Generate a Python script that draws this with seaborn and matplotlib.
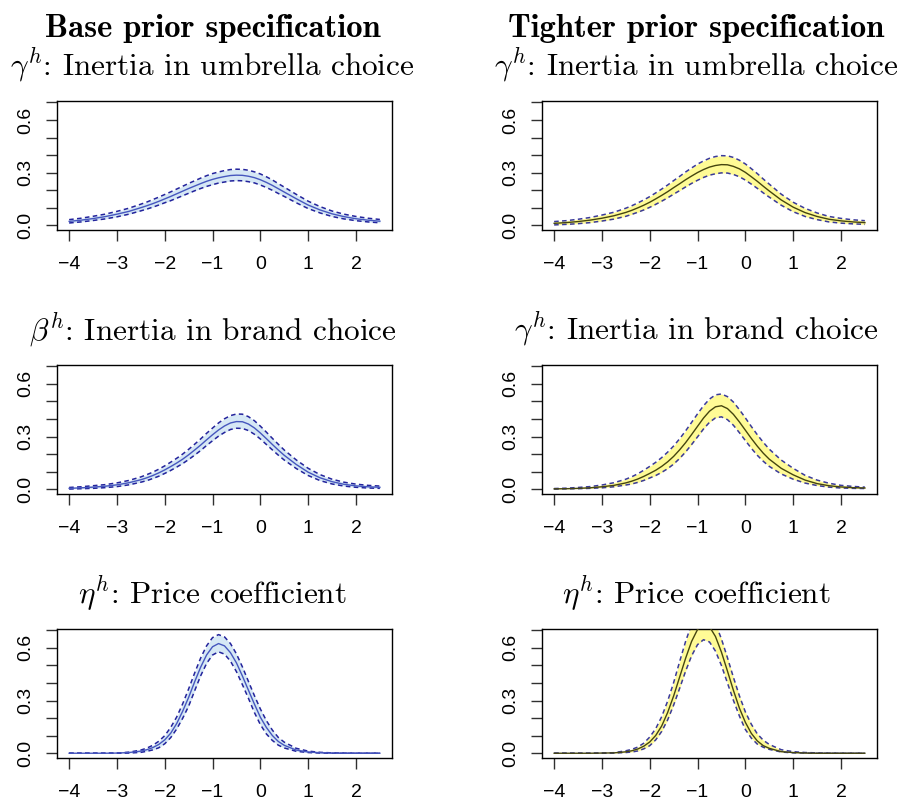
import matplotlib
matplotlib.use("Agg")
import matplotlib.pyplot as plt
import seaborn as sns

# ---------------------------------------------------------------------------
# Posterior density of the heterogeneity distribution: mean and 95% band
# (evaluated on a grid that is finer where the densities peak)
# ---------------------------------------------------------------------------
x_grid = [-4, -3.75, -3.5, -3.25, -3, -2.75, -2.5,
          -2.375, -2.25, -2.125, -2, -1.875, -1.75, -1.625, -1.5,
          -1.375, -1.25, -1.125, -1, -0.875, -0.75, -0.625, -0.5,
          -0.375, -0.25, -0.125, 0, 0.125, 0.25, 0.375, 0.5,
          0.75, 1, 1.25, 1.5, 1.75, 2, 2.25, 2.5]

# gamma^h (umbrella inertia), base prior
base_umb_mean = [0.023, 0.030, 0.039, 0.050, 0.064, 0.080, 0.101,
                 0.112, 0.124, 0.137, 0.151, 0.165, 0.180, 0.195, 0.210,
                 0.224, 0.238, 0.251, 0.262, 0.271, 0.278, 0.284, 0.286,
                 0.285, 0.280, 0.272, 0.260, 0.245, 0.228, 0.209, 0.190,
                 0.152, 0.116, 0.088, 0.066, 0.050, 0.038, 0.030, 0.024]
base_umb_hi = [0.033, 0.041, 0.052, 0.064, 0.080, 0.098, 0.121,
               0.133, 0.147, 0.161, 0.176, 0.191, 0.207, 0.223, 0.239,
               0.254, 0.269, 0.283, 0.295, 0.304, 0.312, 0.318, 0.320,
               0.319, 0.314, 0.305, 0.293, 0.277, 0.259, 0.238, 0.218,
               0.177, 0.138, 0.107, 0.082, 0.064, 0.051, 0.041, 0.034]
base_umb_lo = [0.014, 0.020, 0.028, 0.037, 0.049, 0.064, 0.083,
               0.093, 0.104, 0.116, 0.129, 0.141, 0.155, 0.169, 0.183,
               0.197, 0.210, 0.222, 0.232, 0.241, 0.247, 0.253, 0.255,
               0.254, 0.249, 0.242, 0.230, 0.216, 0.200, 0.182, 0.165,
               0.129, 0.096, 0.071, 0.051, 0.037, 0.027, 0.020, 0.015]

# gamma^h (umbrella inertia), tighter prior
tight_umb_mean = [0.012, 0.016, 0.022, 0.030, 0.041, 0.055, 0.074,
                  0.086, 0.100, 0.115, 0.132, 0.151, 0.171, 0.192, 0.215,
                  0.237, 0.260, 0.281, 0.301, 0.318, 0.332, 0.341, 0.346,
                  0.345, 0.336, 0.322, 0.302, 0.277, 0.251, 0.223, 0.196,
                  0.145, 0.104, 0.073, 0.051, 0.035, 0.026, 0.020, 0.016]
tight_umb_hi = [0.022, 0.027, 0.035, 0.045, 0.059, 0.075, 0.098,
                0.112, 0.128, 0.145, 0.164, 0.185, 0.207, 0.230, 0.255,
                0.279, 0.304, 0.327, 0.349, 0.367, 0.382, 0.392, 0.397,
                0.396, 0.387, 0.371, 0.350, 0.323, 0.295, 0.264, 0.235,
                0.178, 0.132, 0.097, 0.071, 0.051, 0.040, 0.032, 0.027]
tight_umb_lo = [0.003, 0.006, 0.010, 0.016, 0.025, 0.036, 0.052,
                0.063, 0.075, 0.088, 0.103, 0.120, 0.138, 0.157, 0.178,
                0.198, 0.219, 0.239, 0.257, 0.273, 0.286, 0.294, 0.299,
                0.298, 0.290, 0.277, 0.258, 0.235, 0.211, 0.185, 0.161,
                0.115, 0.078, 0.051, 0.033, 0.020, 0.013, 0.009, 0.006]

# beta^h (brand inertia), base prior
base_brand_mean = [0.005, 0.008, 0.012, 0.017, 0.025, 0.037, 0.054,
                   0.065, 0.078, 0.093, 0.110, 0.129, 0.149, 0.171, 0.196,
                   0.223, 0.251, 0.281, 0.310, 0.337, 0.360, 0.377, 0.385,
                   0.384, 0.371, 0.349, 0.320, 0.288, 0.255, 0.223, 0.193,
                   0.141, 0.097, 0.065, 0.043, 0.028, 0.019, 0.014, 0.011]
base_brand_hi = [0.010, 0.014, 0.020, 0.026, 0.036, 0.050, 0.070,
                 0.083, 0.097, 0.114, 0.133, 0.154, 0.176, 0.200, 0.227,
                 0.256, 0.286, 0.318, 0.348, 0.377, 0.401, 0.419, 0.428,
                 0.427, 0.413, 0.390, 0.359, 0.325, 0.290, 0.256, 0.223,
                 0.167, 0.119, 0.083, 0.057, 0.040, 0.029, 0.022, 0.018]
base_brand_lo = [0.001, 0.003, 0.005, 0.009, 0.015, 0.025, 0.040,
                 0.049, 0.061, 0.074, 0.090, 0.107, 0.126, 0.146, 0.169,
                 0.194, 0.220, 0.249, 0.276, 0.302, 0.323, 0.340, 0.347,
                 0.346, 0.334, 0.313, 0.286, 0.255, 0.224, 0.194, 0.166,
                 0.118, 0.078, 0.049, 0.030, 0.018, 0.011, 0.007, 0.005]

# brand inertia, tighter prior
tight_brand_mean = [0.002, 0.003, 0.005, 0.008, 0.014, 0.022, 0.036,
                    0.046, 0.058, 0.073, 0.090, 0.108, 0.130, 0.156, 0.187,
                    0.224, 0.265, 0.311, 0.358, 0.405, 0.444, 0.469, 0.475,
                    0.459, 0.426, 0.383, 0.336, 0.289, 0.245, 0.205, 0.171,
                    0.119, 0.082, 0.052, 0.032, 0.020, 0.013, 0.009, 0.007]
tight_brand_hi = [0.004, 0.006, 0.010, 0.015, 0.024, 0.037, 0.057,
                  0.071, 0.088, 0.108, 0.130, 0.153, 0.180, 0.211, 0.246,
                  0.287, 0.332, 0.380, 0.429, 0.475, 0.513, 0.537, 0.542,
                  0.527, 0.496, 0.453, 0.406, 0.357, 0.310, 0.267, 0.228,
                  0.166, 0.119, 0.079, 0.052, 0.034, 0.022, 0.016, 0.012]
tight_brand_lo = [0.001, 0.002, 0.003, 0.005, 0.008, 0.014, 0.024,
                  0.030, 0.039, 0.050, 0.064, 0.078, 0.096, 0.117, 0.143,
                  0.175, 0.212, 0.254, 0.298, 0.343, 0.381, 0.406, 0.412,
                  0.396, 0.364, 0.322, 0.277, 0.233, 0.193, 0.159, 0.130,
                  0.087, 0.057, 0.035, 0.021, 0.012, 0.007, 0.005, 0.004]

# eta^h (price coefficient), base prior
base_price_mean = [0.000, 0.000, 0.000, 0.000, 0.001, 0.004, 0.012,
                   0.020, 0.032, 0.050, 0.076, 0.114, 0.169, 0.239, 0.318,
                   0.406, 0.489, 0.559, 0.606, 0.624, 0.611, 0.572, 0.514,
                   0.439, 0.359, 0.280, 0.205, 0.147, 0.101, 0.067, 0.045,
                   0.018, 0.007, 0.003, 0.001, 0.000, 0.000, 0.000, 0.000]
base_price_hi = [0.000, 0.000, 0.000, 0.000, 0.001, 0.006, 0.018,
                 0.029, 0.045, 0.068, 0.100, 0.147, 0.206, 0.281, 0.366,
                 0.456, 0.541, 0.611, 0.658, 0.675, 0.662, 0.624, 0.565,
                 0.491, 0.409, 0.328, 0.252, 0.186, 0.132, 0.090, 0.063,
                 0.028, 0.012, 0.005, 0.002, 0.001, 0.000, 0.000, 0.000]
base_price_lo = [0.000, 0.000, 0.000, 0.000, 0.000, 0.001, 0.005,
                 0.011, 0.019, 0.031, 0.054, 0.089, 0.138, 0.199, 0.268,
                 0.355, 0.440, 0.511, 0.559, 0.577, 0.564, 0.524, 0.464,
                 0.390, 0.313, 0.232, 0.163, 0.110, 0.073, 0.046, 0.030,
                 0.011, 0.004, 0.001, 0.000, 0.000, 0.000, 0.000, 0.000]

# eta^h (price coefficient), tighter prior
tight_price_mean = [0.000, 0.000, 0.000, 0.000, 0.001, 0.002, 0.008,
                    0.014, 0.024, 0.040, 0.064, 0.101, 0.155, 0.232, 0.326,
                    0.433, 0.540, 0.636, 0.704, 0.734, 0.720, 0.664, 0.575,
                    0.468, 0.358, 0.257, 0.176, 0.113, 0.070, 0.043, 0.028,
                    0.009, 0.004, 0.001, 0.000, 0.000, 0.000, 0.000, 0.000]
tight_price_hi = [0.000, 0.000, 0.000, 0.000, 0.001, 0.003, 0.014,
                  0.022, 0.035, 0.057, 0.092, 0.140, 0.208, 0.297, 0.402,
                  0.521, 0.636, 0.734, 0.798, 0.820, 0.798, 0.738, 0.650,
                  0.544, 0.432, 0.327, 0.235, 0.165, 0.110, 0.074, 0.050,
                  0.020, 0.009, 0.004, 0.002, 0.001, 0.000, 0.000, 0.000]
tight_price_lo = [0.000, 0.000, 0.000, 0.000, 0.000, 0.001, 0.004,
                  0.007, 0.013, 0.025, 0.043, 0.076, 0.124, 0.190, 0.274,
                  0.369, 0.467, 0.554, 0.618, 0.646, 0.633, 0.581, 0.499,
                  0.400, 0.301, 0.212, 0.135, 0.086, 0.052, 0.034, 0.022,
                  0.007, 0.002, 0.001, 0.000, 0.000, 0.000, 0.000, 0.000]

col_headers = ["Base prior specification", "Tighter prior specification"]
base_titles = [r"$\gamma^h$: Inertia in umbrella choice",
               r"$\beta^h$: Inertia in brand choice",
               r"$\eta^h$: Price coefficient"]
tight_titles = [r"$\gamma^h$: Inertia in umbrella choice",
                r"$\gamma^h$: Inertia in brand choice",
                r"$\eta^h$: Price coefficient"]

x_ticks = [-4, -3, -2, -1, 0, 1, 2]
y_ticks = [0.0, 0.1, 0.2, 0.3, 0.4, 0.5, 0.6, 0.7]
y_tick_labels = ["0.0", "", "", "0.3", "", "", "0.6", ""]

# ---------------------------------------------------------------------------
TICK_SIZE = 14.0
plt.rcParams["font.family"] = ["Liberation Sans", "DejaVu Sans"]
plt.rcParams["mathtext.fontset"] = "cm"
plt.rcParams["axes.unicode_minus"] = True
plt.rcParams["xtick.labelsize"] = TICK_SIZE
plt.rcParams["ytick.labelsize"] = TICK_SIZE

W, H = 903, 800
fig = plt.figure(figsize=(W / 100, H / 100), dpi=100)

col_left = [56.7, 541.7]
box_w = 335.6
row_top = [101.0, 364.8, 628.8]
box_h = 129.0

title_cx = [212.5, 696.5]
sub_baseline = [76.0, 339.5, 603.5]

styles = [
    dict(fill="#D6E8F5", mean="#4657BE", band="#23239C"),   # base prior
    dict(fill="#FFFB96", mean="#45450F", band="#3A3A9A"),   # tighter prior
]

panels = [
    (0, 0, base_umb_mean, base_umb_lo, base_umb_hi),
    (0, 1, tight_umb_mean, tight_umb_lo, tight_umb_hi),
    (1, 0, base_brand_mean, base_brand_lo, base_brand_hi),
    (1, 1, tight_brand_mean, tight_brand_lo, tight_brand_hi),
    (2, 0, base_price_mean, base_price_lo, base_price_hi),
    (2, 1, tight_price_mean, tight_price_lo, tight_price_hi),
]

axes = []
for row, col, mean, lo, hi in panels:
    st = styles[col]
    rect = [col_left[col] / W, 1 - (row_top[row] + box_h) / H, box_w / W, box_h / H]
    ax = fig.add_axes(rect)
    axes.append(ax)

    ax.fill_between(x_grid, lo, hi, color=st["fill"], lw=0, zorder=1)
    for band in (lo, hi):
        sns.lineplot(x=x_grid, y=band, ax=ax, color=st["band"], lw=1.1,
                     errorbar=None, sort=False, zorder=2)
        ax.lines[-1].set_dashes((3.0, 2.2))
    sns.lineplot(x=x_grid, y=mean, ax=ax, color=st["mean"], lw=1.0,
                 errorbar=None, sort=False, zorder=3)

    ax.set_xlim(-4.26, 2.76)
    ax.set_ylim(-0.026, 0.708)
    ax.set_xlabel("")
    ax.set_ylabel("")

    ax.set_xticks(x_ticks)
    ax.set_xticklabels([str(v).replace("-", "\u2212") for v in x_ticks],
                       fontsize=TICK_SIZE)
    ax.set_yticks(y_ticks)
    ax.set_yticklabels(y_tick_labels, fontsize=TICK_SIZE)

    ax.tick_params(axis="both", direction="out", length=7.8, width=1.0,
                   color="#303030", labelsize=TICK_SIZE)
    ax.tick_params(axis="x", pad=11.0)
    ax.tick_params(axis="y", pad=8.5, labelrotation=90)
    for sp in ax.spines.values():
        sp.set_linewidth(1.0)
        sp.set_color("black")

    titles = base_titles if col == 0 else tight_titles
    fig.text(title_cx[col] / W, 1 - sub_baseline[row] / H, titles[row],
             ha="center", va="baseline", fontfamily="cmr10", fontsize=22.5)

for col in range(2):
    fig.text(title_cx[col] / W, 1 - 37.0 / H, col_headers[col],
             ha="center", va="baseline", fontfamily="cmb10", fontsize=23.5,
             fontweight="bold")

fig.canvas.draw()
for ax in axes:
    for lab in ax.get_yticklabels():
        lab.set_verticalalignment("center")
        lab.set_horizontalalignment("right")
        lab.set_fontsize(TICK_SIZE)
    for lab in ax.get_xticklabels():
        lab.set_fontsize(TICK_SIZE)

fig.savefig("out.png", dpi=100, facecolor="white")
